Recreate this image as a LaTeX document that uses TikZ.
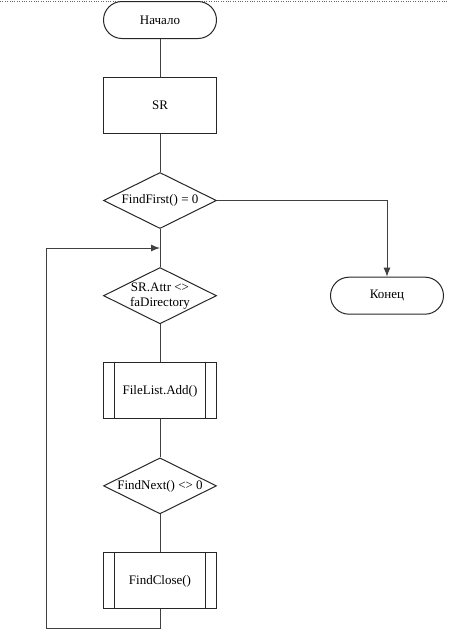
\documentclass[tikz,border=0pt]{standalone}
\usepackage{fontspec}
\setmainfont{Liberation Serif}
\usepackage{tikz}
\usetikzlibrary{shapes.geometric, shapes.misc, positioning, calc, arrows.meta}

\begin{document}
\begin{tikzpicture}[
    auto, align = center,
    font = \fontsize{13}{15}\selectfont,
    terminal/.style = {
      rounded rectangle, draw = black!85, line width = 1pt, inner sep = 0pt,
      minimum width = 113pt, minimum height = 37pt
    },
    process/.style = {
      rectangle, draw = black!85, line width = 1pt, inner sep = 0pt,
      minimum width = 113pt, minimum height = 56pt
    },
    decision/.style = {
      diamond, aspect = 2, draw = black!85, line width = 1pt, inner sep = 0pt,
      minimum width = 113pt, minimum height = 56pt
    },
    % process box with double side lines
    subproc/.style = {
      process,
      path picture = {
        \draw [line width = 1pt] ([xshift = 11pt]path picture bounding box.north west)
          -- ([xshift = 11pt]path picture bounding box.south west);
        \draw [line width = 1pt] ([xshift = -11pt]path picture bounding box.north east)
          -- ([xshift = -11pt]path picture bounding box.south east);
      }
    },
    link/.style = {
      draw = black!75, line width = 1pt
    },
    flow/.style = {
      link, -{Latex[length = 9pt, width = 7pt]}
    },
    ]
    \useasboundingbox (0,0) rectangle (448pt,-641pt);
    \draw [dotted, black!60] (0,-0.8pt) -- (448pt,-0.8pt);

    % draw nodes
    \node  [terminal]  (start)  at (160pt,-20pt)  {Начало};
    \node  [process]  (sr)  [below = 38pt of start]  {SR};
    \node  [decision]  (ff)  [below = 38pt of sr]  {FindFirst() = 0};
    \node  [decision]  (attr)  [below = 38pt of ff]  {SR.Attr <>\\faDirectory};
    \node  [subproc]  (add)  [below = 38pt of attr]  {FileList.Add()};
    \node  [decision]  (fn)  [below = 38pt of add]  {FindNext() <> 0};
    \node  [subproc]  (fc)  [below = 38pt of fn]  {FindClose()};
    \node  [terminal]  (end)  [right = 113pt of attr]  {Конец};

    % loop entry points
    \coordinate  (loopin)  at  ($(ff.south)!0.5!(attr.north)$);
    \coordinate  (loopL)  at  ([xshift = -114pt]loopin);

    % draw paths
    \draw  [link]  (start)  --  (sr);
    \draw  [link]  (sr)  --  (ff);
    \draw  [link]  (ff)  --  (attr);
    \draw  [link]  (attr)  --  (add);
    \draw  [link]  (add)  --  (fn);
    \draw  [link]  (fn)  --  (fc);
    \draw  [flow]  (ff.east)  -|  (end.north);
    \draw  [flow]  (fc.south)  --  ++(0,-19pt)  -|  (loopL)  --  (loopin);
\end{tikzpicture}
\end{document}
